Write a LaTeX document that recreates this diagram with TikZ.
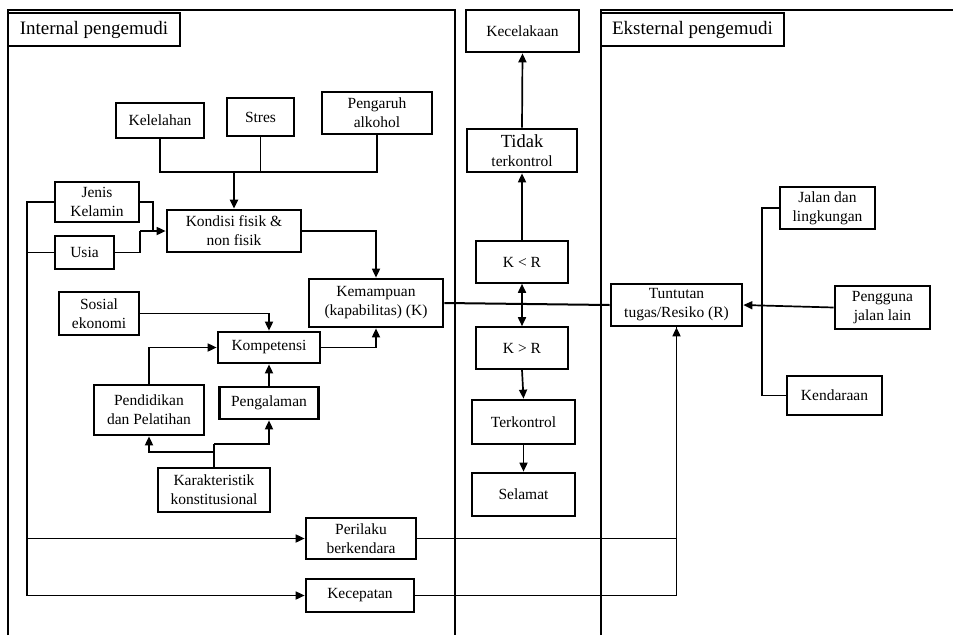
\documentclass[tikz,border=0pt]{standalone}
\usepackage{fontspec}
\setmainfont{Liberation Serif}
\usetikzlibrary{arrows.meta}
\begin{document}
\begin{tikzpicture}[x=1pt,y=-1pt,
  bx/.style={draw, line width=2.7pt, align=center, inner sep=0pt,
    font=\fontsize{15.5}{19}\selectfont},
  thinbx/.style={bx, line width=1.6pt},
  ttl/.style={draw, line width=2.2pt, inner sep=0pt,
    font=\fontsize{19}{22}\selectfont},
  conn/.style={line width=1.7pt},
  arr/.style={conn, -{Triangle[length=9pt,width=8pt]}},
  darr/.style={conn, {Triangle[length=9pt,width=8pt]}-{Triangle[length=9pt,width=8pt]}},
  panel/.style={line width=1.6pt}]
\useasboundingbox (0,0) rectangle (953,635);
% panels
\draw[panel] (8,635) -- (8,10) -- (455,10) -- (455,635);
\draw[panel] (601,635) -- (601,10) -- (953,10);
% titles
\node[ttl, minimum width=172pt, minimum height=33pt] (t1) at (94,29.5) {Internal pengemudi};
\node[ttl, minimum width=183pt, minimum height=33pt] (t2) at (692.5,29.5) {Eksternal pengemudi};
% left nodes
\node[bx, minimum width=88pt, minimum height=35pt] (kel) at (160,120.5) {Kelelahan};
\node[bx, minimum width=67pt, minimum height=38pt] (stres) at (260.5,117) {Stres};
\node[bx, minimum width=110pt, minimum height=42pt] (alk) at (377,113) {Pengaruh\\alkohol};
\node[bx, minimum width=134pt, minimum height=42pt] (kondisi) at (234,231) {Kondisi fisik \&\\non fisik};
\node[bx, minimum width=84pt, minimum height=40pt] (jk) at (97,202) {Jenis\\Kelamin};
\node[bx, minimum width=59pt, minimum height=33pt] (usia) at (84.5,252.5) {Usia};
\node[bx, minimum width=134pt, minimum height=48pt] (kem) at (376,303) {Kemampuan\\(kapabilitas) (K)};
\node[bx, minimum width=80pt, minimum height=43pt] (sos) at (99,313.5) {Sosial\\ekonomi};
\node[bx, minimum width=102pt, minimum height=31pt] (komp) at (269,347.5) {Kompetensi};
\node[bx, minimum width=110pt, minimum height=50pt] (pend) at (149,410) {Pendidikan\\dan Pelatihan};
\node[bx, minimum width=99pt, minimum height=32pt] (peng) at (269,403) {Pengalaman};
\node[bx, minimum width=112pt, minimum height=44pt] (kar) at (214,490) {Karakteristik\\konstitusional};
\node[bx, minimum width=110pt, minimum height=41pt] (per) at (361,538.5) {Perilaku\\berkendara};
\node[bx, minimum width=108pt, minimum height=33pt] (kec) at (360,595.5) {Kecepatan};
% middle nodes
\node[bx, minimum width=113pt, minimum height=42pt] (acc) at (522.5,31) {Kecelakaan};
\node[bx, minimum width=110pt, minimum height=43pt] (tidak) at (522,150.5) {{\fontsize{18.5}{20}\selectfont Tidak}\\terkontrol};
\node[thinbx, minimum width=92pt, minimum height=42pt] (klr) at (522,262) {K < R};
\node[thinbx, minimum width=92pt, minimum height=42pt] (kgr) at (522,348) {K > R};
\node[bx, minimum width=103pt, minimum height=44pt] (terk) at (523.5,422) {Terkontrol};
\node[bx, minimum width=103pt, minimum height=43pt] (sel) at (523.5,494.5) {Selamat};
% right nodes
\node[bx, minimum width=131pt, minimum height=42pt] (tun) at (676.5,305) {Tuntutan\\tugas/Resiko (R)};
\node[bx, minimum width=95pt, minimum height=42pt] (jalan) at (827.5,208) {Jalan dan\\lingkungan};
\node[bx, minimum width=95pt, minimum height=43pt] (pgn) at (882.5,307.5) {Pengguna\\jalan lain};
\node[bx, minimum width=95pt, minimum height=39pt] (kend) at (834.5,395.5) {Kendaraan};
% junction coordinates
\coordinate (j1) at (234,172);
\coordinate (j2) at (153,231);
\coordinate (j3) at (140,231);
\coordinate (bt) at (27,202);
\coordinate (bb) at (27,595.5);
\coordinate (j4) at (214,444);
\coordinate (j5) at (214,452);
\coordinate (j6) at (762,305);
% connectors left
\draw[conn] (kel.south) |- (j1);
\draw[conn] (alk.south) |- (j1);
\draw[conn] (stres.south) -- (stres.south |- j1);
\draw[arr, line width=2.2pt] (j1) -- (kondisi.north);
\draw[conn] (jk.east) -| (j2);
\draw[conn] (usia.east) -| (j3);
\draw[arr] (j3) -- (kondisi.west);
\draw[conn] (jk.west) -- (bt) -- (bb);
\draw[conn] (usia.west) -- (usia.west -| bt);
\draw[arr] (bt |- per.west) -- (per.west);
\draw[arr] (bb) -- (kec.west);
\draw[arr] (kondisi.east) -| (kem.north);
\draw[arr] (sos.east) -| (komp.north);
\draw[arr] (komp.east) -| (kem.south);
\draw[arr] (pend.north) |- (komp.west);
\draw[arr] (peng.north) -- (komp.south);
\draw[conn] (kar.north) -- (j4);
\draw[arr] (j4) -| (peng.south);
\draw[arr] (j5) -| (pend.south);
\draw[conn, line width=2pt] (kem.east) -- (tun.west);
\draw[conn] (kec.east) -| (tun.south);
\draw[arr] (per.east) -| (tun.south);
% middle
\draw[arr] (tidak.north) -- (acc.south);
\draw[arr] (klr.north) -- (tidak.south);
\draw[darr] (klr.south) -- (kgr.north);
\draw[arr] (kgr.south) -- (terk.north);
\draw[arr] (terk.south) -- (sel.north);
% right
\draw[conn] (jalan.west) -| (j6);
\draw[conn] (kend.west) -| (j6);
\draw[arr] (pgn.west) -- (tun.east);
\end{tikzpicture}
\end{document}
